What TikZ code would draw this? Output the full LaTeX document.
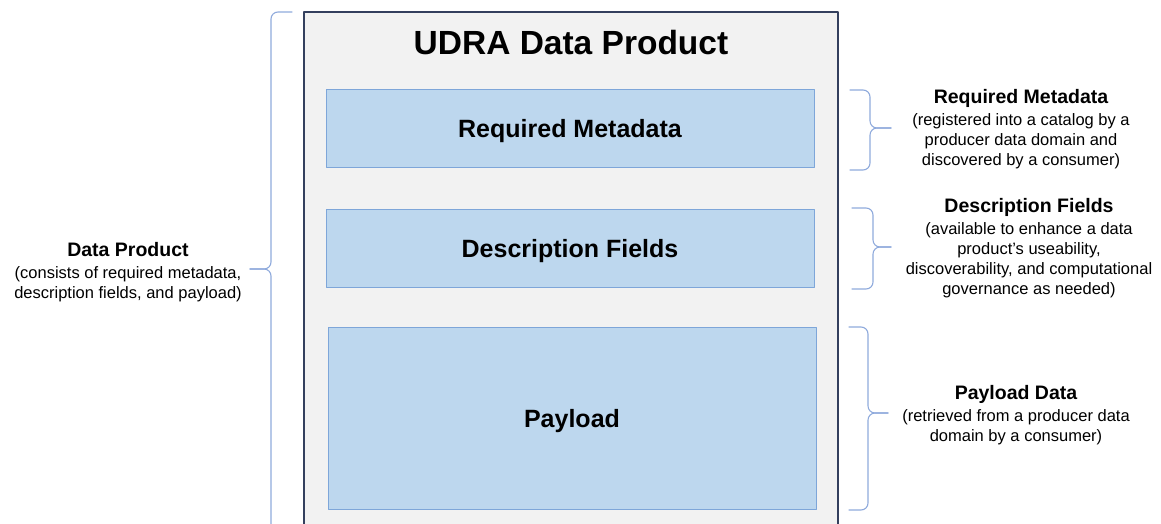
\documentclass[tikz,border=0pt]{standalone}
\usepackage{fontspec}
\setmainfont{Liberation Sans}
\usetikzlibrary{positioning}
\definecolor{boxfill}{HTML}{BDD7EE}
\definecolor{boxline}{HTML}{7EA6D9}
\definecolor{outerfill}{HTML}{F2F2F2}
\definecolor{outerline}{HTML}{34405E}
\definecolor{braceline}{HTML}{8FAADC}
\tikzset{
  part/.style={draw=boxline,fill=boxfill,line width=1pt,minimum width=488pt,inner sep=0pt,
    text depth=0pt,font=\fontsize{25}{30}\selectfont\bfseries},
  note/.style={align=center,font=\fontsize{16.5}{20}\selectfont},
  bracket/.style={draw=braceline,line width=1.1pt,rounded corners=7pt}
}
\newcommand{\notehead}[1]{{\fontsize{19.5}{22}\selectfont\bfseries #1}}
\begin{document}
\begin{tikzpicture}[x=1pt,y=-1pt,line join=round,line cap=round]
  \useasboundingbox (0,0) rectangle (1161,524);
  \clip (0,0) rectangle (1161,524);
  % outer frame and title
  \node[draw=outerline,fill=outerfill,line width=1.6pt,minimum width=534pt,minimum height=540pt,
    inner sep=0pt,anchor=north] (product) at (571,11) {};
  \node[font=\fontsize{33.5}{40}\selectfont\bfseries] (title) at (571,43) {UDRA Data Product};
  % parts
  \node[part,minimum height=77pt] (meta) at (570,128.5) {Required Metadata};
  \node[part,minimum height=78pt] (desc) at (570,248) {Description Fields};
  \node[part,minimum height=182pt] (payload) at (572,418) {Payload};
  % braces
  \draw[bracket] (292,12) -| (271,269) -- (250,269);
  \draw[bracket] (292,600) -| (271,269) -- (250,269);
  \draw[bracket] (850,90) -| (870,128) -- (891,128);
  \draw[bracket] (850,170) -| (870,128) -- (891,128);
  \draw[bracket] (852,208) -| (873,247) -- (891,247);
  \draw[bracket] (852,289) -| (873,247) -- (891,247);
  \draw[bracket] (849,327) -| (868,413) -- (888,413);
  \draw[bracket] (849,510) -| (868,413) -- (888,413);
  % notes
  \node[note] (productnote) at (128,272) {\notehead{Data Product}\\[2pt]
    (consists of required metadata,\\ description fields, and payload)};
  \node[note] (metanote) at (1021,129) {\notehead{Required Metadata}\\[2pt]
    (registered into a catalog by a\\ producer data domain and\\ discovered by a consumer)};
  \node[note] (descnote) at (1029,248) {\notehead{Description Fields}\\[2pt]
    (available to enhance a data\\ product’s useability,\\ discoverability, and computational\\ governance as needed)};
  \node[note] (payloadnote) at (1016,415) {\notehead{Payload Data}\\[2pt]
    (retrieved from a producer data\\ domain by a consumer)};
\end{tikzpicture}
\end{document}
